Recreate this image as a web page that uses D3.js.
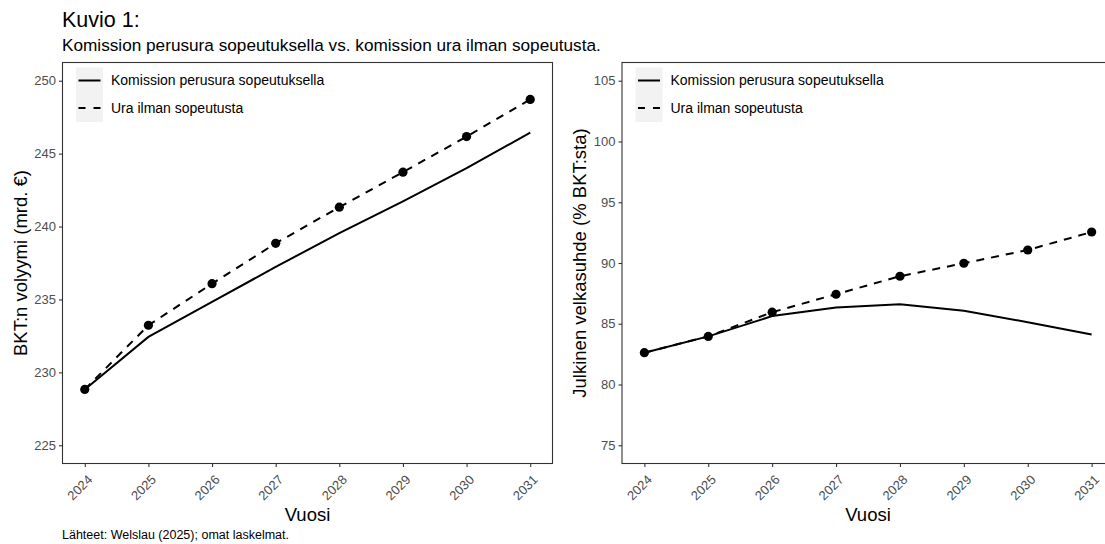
<!DOCTYPE html>
<html>
<head>
<meta charset="utf-8">
<script src="https://cdn.jsdelivr.net/npm/d3@7/dist/d3.min.js"></script>
<style>
  html, body { margin: 0; padding: 0; background: #fff; }
  svg { display: block; font-family: "Liberation Sans", Arial, sans-serif; }
</style>
</head>
<body>
<svg id="chart" width="1105" height="544"></svg>
<script>
// Years on the x axis
const years = [2024, 2025, 2026, 2027, 2028, 2029, 2030, 2031];

// GDP volume, billion euros
const gdpWithAdjustment = [228.83, 232.43, 234.83, 237.23, 239.55, 241.72, 244.00, 246.44];
const gdpWithoutAdjustment = [228.83, 233.23, 236.08, 238.85, 241.33, 243.73, 246.17, 248.72];

// Public debt ratio, % of GDP
const debtWithAdjustment = [82.62, 83.96, 85.63, 86.34, 86.61, 86.07, 85.13, 84.12];
const debtWithoutAdjustment = [82.62, 83.96, 85.95, 87.43, 88.91, 89.98, 91.07, 92.55];

const gdpTicks = [225, 230, 235, 240, 245, 250];
const debtTicks = [75, 80, 85, 90, 95, 100, 105];

const legendLabels = ["Komission perusura sopeutuksella", "Ura ilman sopeutusta"];

const FONT = "Liberation Sans, Arial, sans-serif";
const svg = d3.select("#chart");

// Headings
svg.append("text").attr("x", 62).attr("y", 27)
  .attr("font-size", 21.5).attr("fill", "#000").text("Kuvio 1:");
svg.append("text").attr("x", 62).attr("y", 51)
  .attr("font-size", 17.2).attr("fill", "#000")
  .text("Komission perusura sopeutuksella vs. komission ura ilman sopeutusta.");
svg.append("text").attr("x", 62).attr("y", 539)
  .attr("font-size", 12.5).attr("fill", "#000")
  .text("Lähteet: Welslau (2025); omat laskelmat.");

function drawPanel(opts) {
  const { left, right, top, bottom, yDomain, yTicks, solid, dashed, yTitle } = opts;
  const g = svg.append("g");

  const x = d3.scaleLinear()
    .domain([years[0] - 0.35, years[years.length - 1] + 0.35])
    .range([left, right]);
  const y = d3.scaleLinear().domain(yDomain).range([bottom, top]);

  // clip for the plotting area
  const clipId = "clip" + Math.round(left);
  svg.append("clipPath").attr("id", clipId)
    .append("rect").attr("x", left).attr("y", top)
    .attr("width", right - left).attr("height", bottom - top);

  const plot = g.append("g").attr("clip-path", `url(#${clipId})`);
  plot.append("rect").attr("x", left).attr("y", top)
    .attr("width", right - left).attr("height", bottom - top)
    .attr("fill", "#fff");

  const line = d3.line().x((d, i) => x(years[i])).y(d => y(d));

  plot.append("path").datum(dashed)
    .attr("d", line).attr("fill", "none")
    .attr("stroke", "#000").attr("stroke-width", 2)
    .attr("stroke-dasharray", "8,7");
  plot.append("path").datum(solid)
    .attr("d", line).attr("fill", "none")
    .attr("stroke", "#000").attr("stroke-width", 2);
  plot.selectAll("circle").data(dashed).join("circle")
    .attr("cx", (d, i) => x(years[i])).attr("cy", d => y(d))
    .attr("r", 4.6).attr("fill", "#000");

  // Legend
  const lg = plot.append("g");
  lg.append("rect").attr("x", left + 13.5).attr("y", top + 5)
    .attr("width", 27).attr("height", 54.5).attr("fill", "#f2f2f2");
  const keyY = [top + 18, top + 45.5];
  lg.append("line").attr("x1", left + 16).attr("x2", left + 38)
    .attr("y1", keyY[0]).attr("y2", keyY[0])
    .attr("stroke", "#000").attr("stroke-width", 2);
  lg.append("line").attr("x1", left + 16).attr("x2", left + 38)
    .attr("y1", keyY[1]).attr("y2", keyY[1])
    .attr("stroke", "#000").attr("stroke-width", 2)
    .attr("stroke-dasharray", "7,8");
  legendLabels.forEach((t, i) => {
    lg.append("text").attr("x", left + 48.5).attr("y", keyY[i])
      .attr("dy", "0.35em").attr("font-size", 14).attr("fill", "#000").text(t);
  });

  // Panel border
  g.append("rect").attr("x", left).attr("y", top)
    .attr("width", right - left).attr("height", bottom - top)
    .attr("fill", "none").attr("stroke", "#333").attr("stroke-width", 1.1);

  // Y axis
  const yAxis = g.append("g").attr("transform", `translate(${left},0)`)
    .call(d3.axisLeft(y).tickValues(yTicks).tickSize(3.5).tickPadding(3));
  yAxis.attr("font-size", 13).attr("font-family", FONT);
  yAxis.select(".domain").remove();
  yAxis.selectAll(".tick line").attr("stroke", "#333").attr("stroke-width", 1.1);
  yAxis.selectAll(".tick text").attr("fill", "#4d4d4d");

  // X axis
  const xAxis = g.append("g").attr("transform", `translate(0,${bottom})`)
    .call(d3.axisBottom(x).tickValues(years).tickFormat(d3.format("d")).tickSize(3.5));
  xAxis.attr("font-size", 13).attr("font-family", FONT);
  xAxis.select(".domain").remove();
  xAxis.selectAll(".tick line").attr("stroke", "#333").attr("stroke-width", 1.1);
  xAxis.selectAll(".tick text")
    .attr("fill", "#4d4d4d")
    .attr("text-anchor", "end")
    .attr("x", 0).attr("y", 0).attr("dy", 0)
    .attr("transform", "translate(8,17) rotate(-45)");

  // Axis titles
  g.append("text")
    .attr("x", (left + right) / 2).attr("y", bottom + 57)
    .attr("text-anchor", "middle").attr("font-size", 18.5).attr("fill", "#000")
    .text("Vuosi");
  g.append("text")
    .attr("transform", `translate(${left - 36},${(top + bottom) / 2}) rotate(-90)`)
    .attr("text-anchor", "middle").attr("font-size", 18.5).attr("fill", "#000")
    .text(yTitle);
}

drawPanel({
  left: 62.5, right: 552.5, top: 62.5, bottom: 463.5,
  yDomain: [223.75, 251.25], yTicks: gdpTicks,
  solid: gdpWithAdjustment, dashed: gdpWithoutAdjustment,
  yTitle: "BKT:n volyymi (mrd. €)"
});

drawPanel({
  left: 622, right: 1114, top: 62.5, bottom: 463.5,
  yDomain: [73.5, 106.5], yTicks: debtTicks,
  solid: debtWithAdjustment, dashed: debtWithoutAdjustment,
  yTitle: "Julkinen velkasuhde (% BKT:sta)"
});
</script>
</body>
</html>
